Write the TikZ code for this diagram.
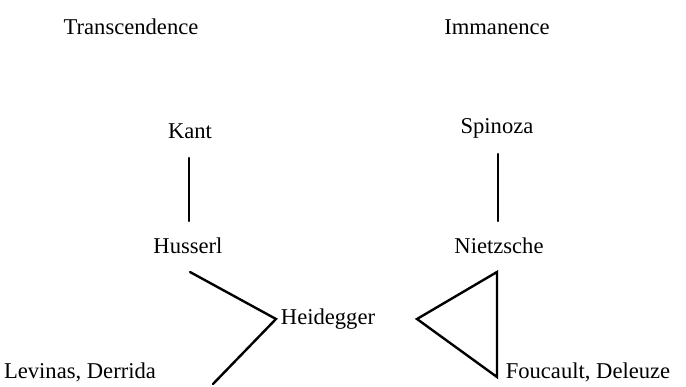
\documentclass[tikz,border=0pt]{standalone}
\usepackage{fontspec}
\setmainfont{Liberation Serif}
\begin{document}
\begin{tikzpicture}[x=1pt,y=-1pt,
  lbl/.style={inner sep=0pt,font=\fontsize{22.6}{26}\selectfont},
  link/.style={line width=2.4pt,line cap=round,line join=miter}]
\useasboundingbox (0,0) rectangle (686,387);
\node[lbl] (trans) at (131,27) {Transcendence};
\node[lbl] (imm) at (497,27) {Immanence};
\node[lbl] (kant) at (190,131) {Kant};
\node[lbl] (spin) at (497,128) {Spinoza};
\node[lbl] (huss) at (188,246) {Husserl};
\node[lbl] (nietz) at (499,246) {Nietzsche};
\node[lbl] (heid) at (328,319) {Heidegger};
\node[lbl] (lev) at (80,372) {Levinas, Derrida};
\node[lbl] (fou) at (588,372) {Foucault, Deleuze};
% endpoints
\coordinate (k1) at (189,158);
\coordinate (k2) at (189,221);
\coordinate (s1) at (498,154);
\coordinate (s2) at (498,221);
\coordinate (h1) at (190,272);
\coordinate (hv) at (276,319);
\coordinate (l1) at (213,384);
\coordinate (t1) at (497,272);
\coordinate (tv) at (417,319);
\coordinate (t2) at (497,377);
\draw[link] (k1) -- (k2);
\draw[link] (s1) -- (s2);
\draw[link] (h1) -- (hv) -- (l1);
\draw[link] (t1) -- (tv) -- (t2) -- cycle;
\end{tikzpicture}
\end{document}
